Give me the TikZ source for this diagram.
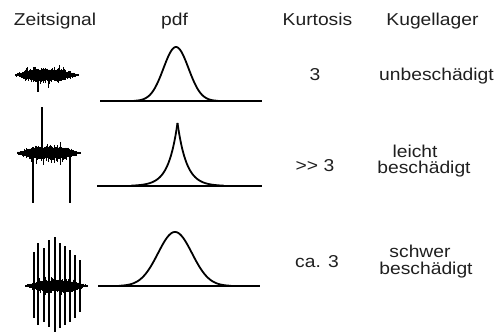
\documentclass[tikz,border=0pt]{standalone}
\usepackage{fontspec}
\setmainfont{Liberation Sans}[FakeStretch=1.12]
\begin{document}
\begin{tikzpicture}[x=1pt,y=-1pt,
  lbl/.style={font=\fontsize{17.2}{17.2}\selectfont, anchor=base, inner sep=0pt, text=black!88},
  pdfcurve/.style={line width=1.8pt, line join=round},
  axisline/.style={line width=1.8pt},
  sig/.style={line width=0.8pt},
  spike/.style={line width=2.3pt}]
\useasboundingbox (0,0) rectangle (501,334);
\pgfmathsetseed{4711}

% headers
\node[lbl] (hZeit) at (55,26) {Zeitsignal};
\node[lbl] (hPdf) at (174.5,26) {pdf};
\node[lbl] (hKurt) at (317.5,26) {Kurtosis};
\node[lbl] (hKug) at (432.5,26) {Kugellager};

% row texts
\node[lbl] (k1) at (315,80.5) {3};
\node[lbl] (z1) at (436.5,80.5) {unbeschädigt};
\node[lbl] (k2) at (315,172) {>{}> 3};
\node[lbl] (z2a) at (415,158) {leicht};
\node[lbl] (z2b) at (424,174) {beschädigt};
\node[lbl] (k3) at (317,267) {ca. 3};
\node[lbl] (z3a) at (420,258) {schwer};
\node[lbl] (z3b) at (426,274) {beschädigt};

% pdf row 1 (Gauss)
\draw[axisline] (100,101) -- (262,101);
\draw[pdfcurve] plot[domain=-42:42, samples=85, smooth] ({176+\x},{101-54*exp(-(\x*\x)/(2*12.5*12.5))});
% pdf row 2 (Laplace)
\draw[axisline] (97,186) -- (262,186);
\draw[pdfcurve] plot[domain=-46:0, samples=93] ({177.5+\x},{186-63*exp(\x/9)});
\draw[pdfcurve] plot[domain=0:46, samples=93] ({177.5+\x},{186-63*exp(-\x/9)});
% pdf row 3 (Gauss wide)
\draw[axisline] (98,286) -- (260,286);
\draw[pdfcurve] plot[domain=-56:56, samples=113, smooth] ({175+\x},{286-54*exp(-(\x*\x)/(2*17*17))});

% time signal row 1
\draw[sig] (15,75) -- (78,75);
\foreach \i in {0,...,126}{
  \pgfmathsetmacro{\t}{15+0.5*\i}
  \pgfmathsetmacro{\e}{0.8+10*exp(-((\t-46)*(\t-46)/600)^2)}
  \pgfmathsetmacro{\ya}{75-\e*(0.45+0.8*rnd*rnd*rnd)}
  \pgfmathsetmacro{\yb}{75+\e*(0.45+0.8*rnd*rnd*rnd)}
  \draw[sig] (\t,\ya) -- (\t,\yb);
}
\draw[spike] (38,75) -- (38,92);

% time signal row 2
\draw[sig] (17,153) -- (80,153);
\foreach \i in {0,...,126}{
  \pgfmathsetmacro{\t}{17+0.5*\i}
  \pgfmathsetmacro{\e}{0.8+10.5*exp(-((\t-48.5)*(\t-48.5)/620)^2)}
  \pgfmathsetmacro{\ya}{153-\e*(0.45+0.8*rnd*rnd*rnd)}
  \pgfmathsetmacro{\yb}{153+\e*(0.45+1.0*rnd*rnd*rnd)}
  \draw[sig] (\t,\ya) -- (\t,\yb);
}
\draw[spike] (42,153) -- (42,107);
\draw[spike] (33,153) -- (33,203);
\draw[spike] (70,153) -- (70,203);

% time signal row 3
\draw[sig] (25,286) -- (87,286);
\foreach \i in {0,...,124}{
  \pgfmathsetmacro{\t}{25+0.5*\i}
  \pgfmathsetmacro{\e}{0.8+10*exp(-((\t-56)*(\t-56)/600)^2)}
  \pgfmathsetmacro{\ya}{286-\e*(0.45+0.8*rnd*rnd*rnd)}
  \pgfmathsetmacro{\yb}{286+\e*(0.45+0.8*rnd*rnd*rnd)}
  \draw[sig] (\t,\ya) -- (\t,\yb);
}
\foreach \xx/\tp/\bt in {34/252/318, 38/243/325, 44/248/322, 49/240/327, 55/237/332, 60/243/328, 65/246/325, 70/250/322, 75/255/318, 80/260/312}
  \draw[spike] (\xx,\tp) -- (\xx,\bt);
\end{tikzpicture}
\end{document}
